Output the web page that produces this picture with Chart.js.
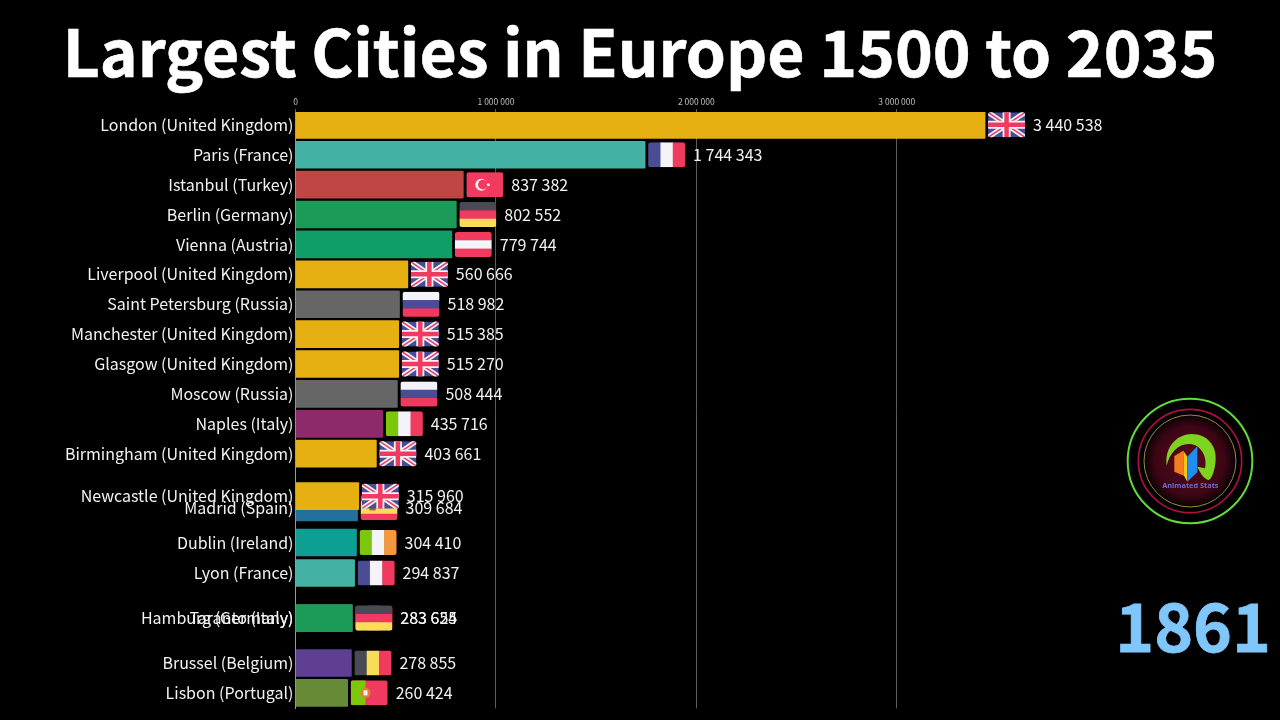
<!DOCTYPE html>
<html>
<head>
<meta charset="utf-8">
<title>Largest Cities in Europe 1500 to 2035</title>
<script src="https://cdn.jsdelivr.net/npm/chart.js@4"></script>
<style>
  html, body { margin: 0; padding: 0; background: #000; overflow: hidden; }
  #wrap { position: relative; width: 1280px; height: 720px; background: #000; }
  #wrap canvas { position: absolute; left: 0; top: 0; }
  h1 { position: absolute; left: 0; top: 0; width: 1280px; margin: 0; text-align: center; color: #fff;
       font: 700 64.2px/98px "Noto Sans CJK SC", sans-serif; white-space: nowrap; -webkit-text-stroke: 0.6px #fff; }
  #year { position: absolute; right: 9px; top: 574px; color: #7fc6fb;
          font: 700 66px/98px "Noto Sans CJK SC", sans-serif; -webkit-text-stroke: 0.8px #7fc6fb; }
  #logo { position: absolute; left: 1110px; top: 385px; }
</style>
</head>
<body>
<div id="wrap">
  <canvas id="chart" width="1280" height="720"></canvas>
  <h1>Largest Cities in Europe 1500 to 2035</h1>
  <svg id="logo" width="160" height="150" viewBox="0 0 480 450">
    <defs>
      <radialGradient id="glow">
        <stop offset="0" stop-color="#5a0a1e"/>
        <stop offset="0.75" stop-color="#3c0614"/>
        <stop offset="1" stop-color="#0c0104"/>
      </radialGradient>
    </defs>
    <circle cx="240" cy="228" r="138" fill="url(#glow)"/>
    <circle cx="240" cy="228" r="187" fill="none" stroke="#62dc3c" stroke-width="6"/>
    <circle cx="240" cy="228" r="155" fill="none" stroke="#b01040" stroke-width="5"/>
    <circle cx="240" cy="228" r="138" fill="none" stroke="#8d8f45" stroke-width="3"/>
    <path fill="#7ed321" d="M170 242C163 182 205 147 245 147C290 147 320 180 317 225C315 255 305 285 295 285C280 280 270 262 262 245L285 250C292 225 280 185 245 178C210 172 180 200 170 242Z"/>
    <polygon fill="#f47c20" points="193,213 220,197 222,272 193,260"/>
    <polygon fill="#f5c518" points="220,197 232,215 232,290 222,272"/>
    <polygon fill="#1e8ff0" points="232,215 262,184 262,262 232,290"/>
    <text x="241" y="308" text-anchor="middle" fill="#6a70d6" font-family="Open Sans, sans-serif" font-weight="700" font-size="22">Animated Stats</text>
  </svg>
  <div id="year">1861</div>
</div>
<script>
// drawing order: Madrid under Newcastle, Taranto under Hamburg
var cities = ['London (United Kingdom)', 'Paris (France)', 'Istanbul (Turkey)', 'Berlin (Germany)', 'Vienna (Austria)',
  'Liverpool (United Kingdom)', 'Saint Petersburg (Russia)', 'Manchester (United Kingdom)', 'Glasgow (United Kingdom)',
  'Moscow (Russia)', 'Naples (Italy)', 'Birmingham (United Kingdom)', 'Madrid (Spain)', 'Newcastle (United Kingdom)',
  'Dublin (Ireland)', 'Lyon (France)', 'Taranto (Italy)', 'Hamburg (Germany)', 'Brussel (Belgium)', 'Lisbon (Portugal)'];
var population = [3440538, 1744343, 837382, 802552, 779744, 560666, 518982, 515385, 515270, 508444,
  435716, 403661, 309684, 315960, 304410, 294837, 283654, 283625, 278855, 260424];
// ranks are fractional because rows are caught mid-swap in the animation
var ranks = [0, 1, 2, 3, 4, 5, 6, 7, 8, 9, 10, 11, 12.8, 12.42, 13.97, 14.99, 16.5, 16.5, 18, 19];
var countries = ['uk', 'fr', 'tr', 'de', 'at', 'uk', 'ru', 'uk', 'uk', 'ru', 'it', 'uk', 'es', 'uk', 'ie', 'fr', 'it', 'de', 'be', 'pt'];
var xTicks = [0, 1000000, 2000000, 3000000];

var barColors = {
  uk: '#e6b012', fr: '#43b2a5', tr: '#c04545', de: '#1c9a58', at: '#0f9d68', ru: '#666666',
  it: '#8c2a6a', es: '#23709a', ie: '#0d9e94', be: '#5f3f92', pt: '#668a36'
};

var BLUE = '#4a4c96', RED = '#f03a5f', WHITE = '#f4f4f8', DARK = '#4a4a54', YELLOW = '#fadc58', GREEN = '#7cc70c', ORANGE = '#f5983c';
var FLAG_W = 37, FLAG_H = 25;

function fmt(n) {
  return String(n).replace(/\B(?=(\d{3})+(?!\d))/g, ' ');
}

function stripesH(ctx, x, y, cols) {
  for (var i = 0; i < cols.length; i++) {
    ctx.fillStyle = cols[i];
    ctx.fillRect(x, y + i * FLAG_H / cols.length, FLAG_W, FLAG_H / cols.length + 0.5);
  }
}

function stripesV(ctx, x, y, cols) {
  for (var i = 0; i < cols.length; i++) {
    ctx.fillStyle = cols[i];
    ctx.fillRect(x + i * FLAG_W / cols.length, y, FLAG_W / cols.length + 0.5, FLAG_H);
  }
}

function line(ctx, x1, y1, x2, y2, col, w) {
  ctx.strokeStyle = col;
  ctx.lineWidth = w;
  ctx.beginPath();
  ctx.moveTo(x1, y1);
  ctx.lineTo(x2, y2);
  ctx.stroke();
}

function drawFlag(ctx, code, x, y) {
  var r = x + FLAG_W, b = y + FLAG_H, cx = x + FLAG_W / 2, cy = y + FLAG_H / 2;
  ctx.save();
  ctx.beginPath();
  ctx.roundRect(x, y, FLAG_W, FLAG_H, 2.5);
  ctx.clip();
  if (code == 'uk') {
    ctx.fillStyle = BLUE;
    ctx.fillRect(x, y, FLAG_W, FLAG_H);
    line(ctx, x, y, r, b, WHITE, 5);
    line(ctx, r, y, x, b, WHITE, 5);
    line(ctx, x, y, r, b, RED, 1.5);
    line(ctx, r, y, x, b, RED, 1.5);
    line(ctx, cx, y, cx, b, WHITE, 8);
    line(ctx, x, cy, r, cy, WHITE, 8);
    line(ctx, cx, y, cx, b, RED, 4.5);
    line(ctx, x, cy, r, cy, RED, 4.5);
  } else if (code == 'fr') {
    stripesV(ctx, x, y, [BLUE, WHITE, RED]);
  } else if (code == 'it') {
    stripesV(ctx, x, y, [GREEN, WHITE, RED]);
  } else if (code == 'ie') {
    stripesV(ctx, x, y, [GREEN, WHITE, ORANGE]);
  } else if (code == 'be') {
    stripesV(ctx, x, y, [DARK, YELLOW, RED]);
  } else if (code == 'de') {
    stripesH(ctx, x, y, [DARK, RED, YELLOW]);
  } else if (code == 'at') {
    stripesH(ctx, x, y, [RED, WHITE, RED]);
  } else if (code == 'ru') {
    stripesH(ctx, x, y, [WHITE, BLUE, RED]);
  } else if (code == 'es') {
    stripesH(ctx, x, y, [RED, YELLOW, YELLOW, RED]);
    ctx.fillStyle = '#a5652a';
    ctx.fillRect(x + 9, cy - 3, 6, 6);
  } else if (code == 'tr') {
    ctx.fillStyle = RED;
    ctx.fillRect(x, y, FLAG_W, FLAG_H);
    ctx.fillStyle = WHITE;
    ctx.beginPath();
    ctx.arc(x + 15, cy, 6, 0, Math.PI * 2);
    ctx.fill();
    ctx.fillStyle = RED;
    ctx.beginPath();
    ctx.arc(x + 16.5, cy, 4.8, 0, Math.PI * 2);
    ctx.fill();
    ctx.fillStyle = WHITE;
    ctx.beginPath();
    ctx.arc(x + 22, cy, 1.5, 0, Math.PI * 2);
    ctx.fill();
  } else if (code == 'pt') {
    ctx.fillStyle = RED;
    ctx.fillRect(x, y, FLAG_W, FLAG_H);
    ctx.fillStyle = GREEN;
    ctx.fillRect(x, y, FLAG_W * 0.4, FLAG_H);
    ctx.fillStyle = '#d9822b';
    ctx.beginPath();
    ctx.arc(x + FLAG_W * 0.4, cy, 5, 0, Math.PI * 2);
    ctx.fill();
    ctx.fillStyle = WHITE;
    ctx.fillRect(x + FLAG_W * 0.4 - 2, cy - 2.5, 4, 5);
  }
  ctx.restore();
}

// flag and value sit just past the end of each bar
var barEndLabels = {
  id: 'barEndLabels',
  afterDatasetsDraw: function(chart) {
    var ctx = chart.ctx;
    var bars = chart.getDatasetMeta(0).data;
    ctx.save();
    ctx.font = '400 16px "Noto Sans CJK SC", sans-serif';
    ctx.textBaseline = 'middle';
    ctx.textAlign = 'left';
    for (var i = 0; i < bars.length; i++) {
      drawFlag(ctx, countries[i], bars[i].x + 3, bars[i].y - FLAG_H / 2);
      ctx.fillStyle = '#f2f2f2';
      ctx.fillText(fmt(population[i]), bars[i].x + 48, bars[i].y);
    }
    ctx.restore();
  }
};

var points = [];
for (var i = 0; i < population.length; i++) {
  points.push({x: population[i], y: ranks[i]});
}

new Chart(document.getElementById('chart').getContext('2d'), {
  type: 'bar',
  data: {
    datasets: [{
      data: points,
      backgroundColor: countries.map(function(c) { return barColors[c]; }),
      barThickness: 27,
      borderRadius: 1
    }]
  },
  plugins: [barEndLabels],
  options: {
    indexAxis: 'y',
    responsive: false,
    animation: false,
    layout: {padding: {left: 0, right: 283, top: 97, bottom: 8}},
    plugins: {legend: {display: false}, tooltip: {enabled: false}, title: {display: false}},
    scales: {
      x: {
        type: 'linear',
        position: 'top',
        min: 0,
        max: 3500000,
        afterBuildTicks: function(axis) {
          axis.ticks = xTicks.map(function(v) { return {value: v}; });
        },
        afterFit: function(axis) { axis.height = 15; },
        grid: {color: '#5c5c5c', lineWidth: 1, tickLength: 3},
        border: {display: false},
        ticks: {
          color: '#bdbdbd',
          padding: 2,
          maxRotation: 0,
          font: {family: '"Noto Sans CJK SC", sans-serif', size: 8.5},
          callback: function(v) { return fmt(v); }
        }
      },
      y: {
        type: 'linear',
        reverse: true,
        offset: false,
        min: -0.43,
        max: 19.52,
        afterBuildTicks: function(axis) {
          axis.ticks = ranks.map(function(v) { return {value: v}; });
        },
        afterFit: function(axis) { axis.width = 295.5; },
        grid: {offset: false, drawOnChartArea: false, drawTicks: false},
        border: {display: true, color: '#9a9a9a', width: 1},
        ticks: {
          autoSkip: false,
          color: '#f2f2f2',
          padding: 2,
          font: {family: '"Noto Sans CJK SC", sans-serif', size: 16},
          callback: function(v, idx) { return cities[idx]; }
        }
      }
    }
  }
});
</script>
</body>
</html>
